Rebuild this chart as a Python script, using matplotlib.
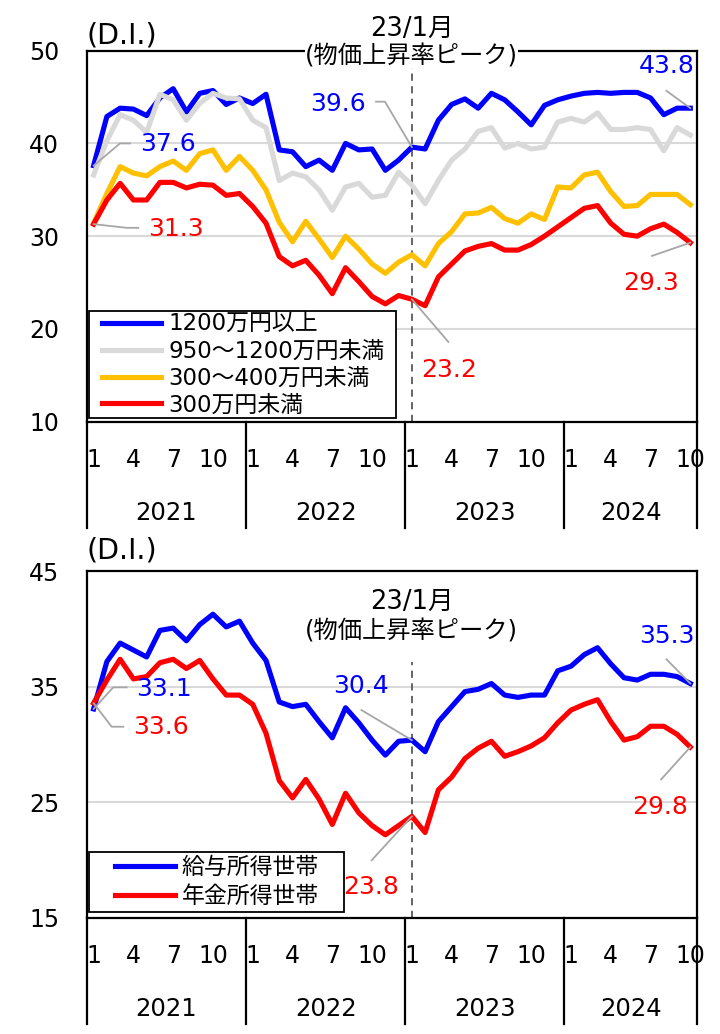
import numpy as np
import matplotlib.pyplot as plt
from matplotlib.patches import Rectangle
from matplotlib.transforms import IdentityTransform

plt.rcParams['font.family'] = ['DejaVu Sans', 'Noto Sans CJK JP']

# monthly D.I., Jan 2021 - Oct 2024
years = ['2021', '2022', '2023', '2024']
month_ticks = [1, 4, 7, 10]
n = 46

over1200 = [37.6, 42.9, 43.8, 43.7, 43.0, 44.9, 45.9, 43.4, 45.4, 45.7, 44.2, 44.9,
            44.3, 45.3, 39.3, 39.1, 37.5, 38.2, 37.1, 40.0, 39.3, 39.4, 37.1, 38.2,
            39.6, 39.4, 42.5, 44.2, 44.8, 43.8, 45.4, 44.7, 43.4, 42.0, 44.1, 44.7,
            45.1, 45.4, 45.5, 45.4, 45.5, 45.5, 44.9, 43.1, 43.8, 43.8]
r950_1200 = [36.6, 40.3, 43.1, 42.5, 41.2, 45.3, 44.7, 42.5, 44.3, 45.4, 44.9, 44.8,
             42.5, 41.7, 36.0, 36.8, 36.4, 35.0, 32.8, 35.3, 35.7, 34.2, 34.4, 36.9,
             35.5, 33.5, 36.0, 38.2, 39.4, 41.3, 41.7, 39.5, 40.0, 39.4, 39.6, 42.3,
             42.7, 42.3, 43.3, 41.5, 41.5, 41.7, 41.5, 39.2, 41.7, 40.9]
r300_400 = [31.4, 34.6, 37.5, 36.8, 36.5, 37.5, 38.1, 37.1, 38.9, 39.3, 37.1, 38.6,
            37.1, 35.0, 31.5, 29.4, 31.6, 29.7, 27.7, 30.0, 28.6, 27.0, 26.0, 27.2,
            28.0, 26.8, 29.2, 30.5, 32.4, 32.5, 33.1, 31.9, 31.4, 32.4, 31.8, 35.3,
            35.2, 36.6, 36.9, 34.8, 33.2, 33.3, 34.5, 34.5, 34.5, 33.4]
under300 = [31.3, 33.9, 35.7, 33.9, 33.9, 35.8, 35.8, 35.2, 35.6, 35.5, 34.4, 34.6,
            33.2, 31.4, 27.8, 26.8, 27.4, 25.8, 23.8, 26.6, 25.1, 23.5, 22.7, 23.6,
            23.2, 22.5, 25.6, 27.0, 28.4, 28.9, 29.2, 28.5, 28.5, 29.1, 30.0, 31.0,
            32.0, 33.0, 33.3, 31.4, 30.2, 30.0, 30.8, 31.3, 30.4, 29.3]

wage = [33.1, 37.2, 38.8, 38.2, 37.6, 39.9, 40.1, 39.0, 40.4, 41.3, 40.2, 40.7,
        38.8, 37.3, 33.7, 33.3, 33.5, 32.0, 30.6, 33.2, 31.9, 30.4, 29.1, 30.3,
        30.4, 29.4, 32.0, 33.3, 34.6, 34.8, 35.3, 34.3, 34.1, 34.3, 34.3, 36.4,
        36.8, 37.8, 38.4, 37.0, 35.8, 35.6, 36.1, 36.1, 35.9, 35.3]
pension = [33.6, 35.6, 37.4, 35.7, 35.9, 37.1, 37.4, 36.6, 37.3, 35.7, 34.3, 34.3,
           33.5, 31.0, 26.9, 25.4, 27.0, 25.3, 23.1, 25.8, 24.1, 23.0, 22.2, 23.0,
           23.8, 22.4, 26.1, 27.2, 28.8, 29.7, 30.3, 29.0, 29.4, 29.9, 30.6, 31.9,
           33.0, 33.5, 33.9, 32.0, 30.4, 30.7, 31.6, 31.6, 30.9, 29.8]

top_labels = ['1200万円以上', '950～1200万円未満', '300～400万円未満', '300万円未満']
bot_labels = ['給与所得世帯', '年金所得世帯']

blue = '#0000FF'
grey = '#D9D9D9'
orange = '#FFC000'
red = '#FF0000'
leader = '#A6A6A6'
peak = 24  # Jan 2023

x = np.arange(n)
fig = plt.figure(figsize=(7.2, 10.34), dpi=100)
ax1 = fig.add_axes([0.1208, 0.5922, 0.8472, 0.3588])
ax2 = fig.add_axes([0.1208, 0.1122, 0.8472, 0.3351])


def base(ax, ylim, yticks, grids, hpx, di_off):
    ax.set_xlim(-0.5, n - 0.5)
    ax.set_ylim(*ylim)
    ax.set_yticks(yticks)
    ax.set_xticks([])
    ax.tick_params(axis='y', length=0, pad=20, labelsize=17)
    for g in grids:
        ax.axhline(g, color=grey, lw=1.5, zorder=0)
    for s in ax.spines.values():
        s.set_linewidth(1.6)
    tr = ax.get_xaxis_transform()
    for k, yr in enumerate(years):
        lo = 12 * k - 0.5
        hi = min(12 * k + 11.5, n - 0.5)
        for m in month_ticks:
            i = 12 * k + m - 1
            if i < n:
                ax.text(i, -38 / hpx, str(m), transform=tr, ha='center', va='center', fontsize=17)
        ax.text((lo + hi) / 2, -91 / hpx, yr, transform=tr, ha='center', va='center', fontsize=17.5)
    for b in [12 * k - 0.5 for k in range(4)] + [n - 0.5]:
        ax.plot([b, b], [0, -106 / hpx], transform=tr, color='black', lw=1.6, clip_on=False)
    ax.text(-0.55, 1 + di_off / hpx, '(D.I.)', transform=tr, ha='left', va='center', fontsize=20.5)


def callout(ax, pts, txt, tx, ty, color, ha='center'):
    xs, ys = zip(*pts)
    ax.plot(xs, ys, color=leader, lw=1.3, zorder=3, clip_on=False)
    ax.text(tx, ty, txt, color=color, fontsize=18, ha=ha, va='center', zorder=5)


def boxed_legend(ax, anchor, spacing, pads):
    leg = ax.legend(loc='lower left', bbox_to_anchor=anchor, borderaxespad=0, borderpad=0,
                    fontsize=16.5, frameon=False, handlelength=2.6,
                    labelspacing=spacing, handletextpad=0.3)
    leg.set_zorder(6)
    return ax, leg, pads


# ---- top panel ----
base(ax1, (10, 50), [10, 20, 30, 40, 50], [20, 30, 40], 371, 15)
ax1.plot([peak, peak], [10, 48.1], color='#595959', ls=(0, (4, 3)), lw=1.3, zorder=1)
for vals, c, lab in zip([over1200, r950_1200, r300_400, under300], [blue, grey, orange, red], top_labels):
    ax1.plot(x, vals, color=c, lw=3.7, label=lab, zorder=2)

callout(ax1, [(0, over1200[0]), (1.99, 40.0), (2.74, 40.0)], '37.6', 3.5, 39.9, blue, 'left')
callout(ax1, [(0, under300[0]), (2.49, 30.9), (3.37, 30.9)], '31.3', 4.1, 30.75, red, 'left')
callout(ax1, [(peak, over1200[peak]), (21.97, 44.5), (21.3, 44.5)], '39.6', 20.5, 44.2, blue, 'right')
callout(ax1, [(n - 1, over1200[-1]), (43.2, 45.67)], '43.8', 43.2, 48.3, blue)
callout(ax1, [(n - 1, under300[-1]), (42.1, 27.87)], '29.3', 42.07, 24.9, red)
callout(ax1, [(peak, under300[peak]), (26.75, 18.6)], '23.2', 26.77, 15.55, red)

ax1.text(peak, 52.4, '23/1月', ha='center', va='center', fontsize=18.5, clip_on=False)
ax1.text(peak, 49.4, '(物価上昇率ピーク)', ha='center', va='center', fontsize=17.5,
         zorder=6, clip_on=False, bbox=dict(facecolor='white', edgecolor='none', pad=0))

legends = [boxed_legend(ax1, (0.024, 0.014), 0.17, (13, 12, 2, 2))]

# ---- bottom panel ----
base(ax2, (15, 45), [15, 25, 35, 45], [25, 35], 346.5, 21)
ax2.plot([peak, peak], [15, 37.2], color='#595959', ls=(0, (4, 3)), lw=1.3, zorder=1)
ax2.plot(x, wage, color=blue, lw=3.7, label=bot_labels[0], zorder=2)
ax2.plot(x, pension, color=red, lw=3.7, label=bot_labels[1], zorder=2)

callout(ax2, [(0, wage[0]), (1.48, 34.97), (2.49, 34.97)], '33.1', 3.2, 34.8, blue, 'left')
callout(ax2, [(0, pension[0]), (1.36, 31.56), (2.24, 31.56)], '33.6', 2.97, 31.5, red, 'left')
callout(ax2, [(peak, wage[peak]), (20.2, 33.0)], '30.4', 20.2, 35.1, blue)
callout(ax2, [(n - 1, wage[-1]), (43.2, 37.4)], '35.3', 43.2, 39.4, blue)
callout(ax2, [(n - 1, pension[-1]), (42.8, 27.0)], '29.8', 42.75, 24.6, red)
callout(ax2, [(peak, pension[peak]), (20.97, 20.0)], '23.8', 20.96, 17.7, red)

ax2.text(peak, 42.35, '23/1月', ha='center', va='center', fontsize=18.5)
ax2.text(peak, 39.85, '(物価上昇率ピーク)', ha='center', va='center', fontsize=17.5)

legends.append(boxed_legend(ax2, (0.046, 0.03), 0.25, (26, 25, 4, 4)))

# legend frames drawn by hand: wide side padding, tight top/bottom
fig.canvas.draw()
for ax, leg, (pl, pr, pb, pt) in legends:
    bb = leg.get_window_extent()
    ax.add_patch(Rectangle((bb.x0 - pl, bb.y0 - pb), bb.width + pl + pr, bb.height + pb + pt,
                           transform=IdentityTransform(), facecolor='white',
                           edgecolor='black', lw=1.3, zorder=5, clip_on=False))

fig.savefig('out.png', dpi=100)
